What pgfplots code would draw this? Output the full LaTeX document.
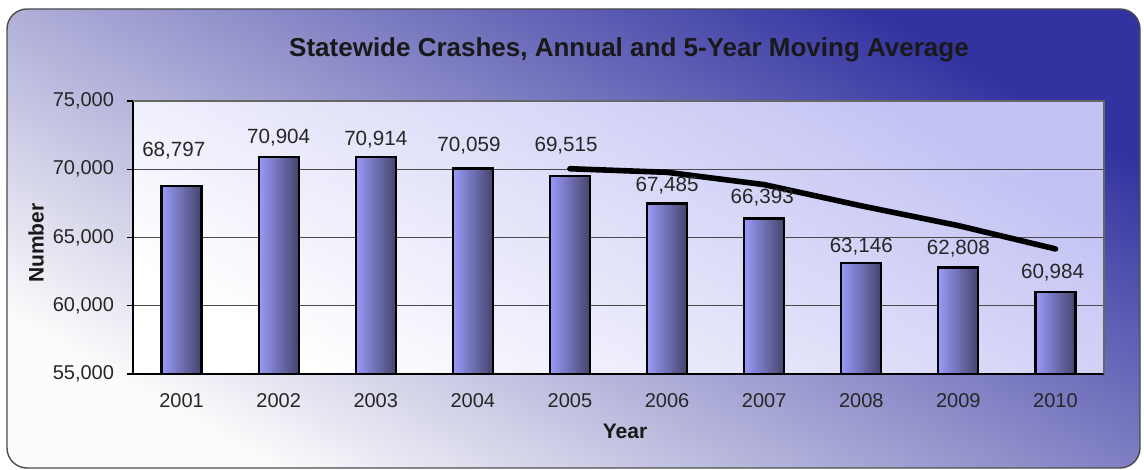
\documentclass[border=0pt]{standalone}
\usepackage{pgfplots}
\pgfplotsset{compat=1.18}
\usepackage{pgfplotstable}
\usepackage{fontspec}
\setmainfont{Liberation Sans}
\definecolor{barL}{HTML}{9A9AFA}
\definecolor{barR}{HTML}{44446C}
\definecolor{bgTop}{HTML}{3232A0}
\definecolor{bgMid}{HTML}{C4C4D6}
\definecolor{bgBot}{HTML}{FCFCFC}
\definecolor{paTop}{HTML}{C2C2F4}
\definecolor{paMid}{HTML}{E2E2F8}
\definecolor{paBot}{HTML}{FFFFFF}
\definecolor{gridc}{HTML}{4A4A4A}

\pgfplotstableread{
x    v      lx       ly
2001 68797  2000.92  71337
2002 70904  2002.00  72289
2003 70914  2003.00  72179
2004 70059  2003.96  71703
2005 69515  2004.96  71703
2006 67485  2006.00  68773
2007 66393  2006.98  67894
2008 63146  2008.00  64304
2009 62808  2009.00  64158
2010 60984  2009.97  62399
}\crashes

\pgfplotstableread{
x    ma
2005 70037.8
2006 69775.4
2007 68873.2
2008 67319.6
2009 65869.4
2010 64163.2
}\movavg

\begin{document}
\begin{tikzpicture}
\useasboundingbox[fill=white] (0pt,0pt) rectangle (572pt,235pt);
\shade[bottom color=bgBot, middle color=bgMid, top color=bgTop, shading angle=-30, rounded corners=10pt]
  (3.5pt,1pt) rectangle (570pt,230.5pt);
\draw[black!70, line width=0.7pt, rounded corners=10pt] (3.5pt,1pt) rectangle (570pt,230.5pt);

\begin{axis}[
  at={(66.5pt,48pt)}, anchor=south west,
  scale only axis, width=485.5pt, height=136.5pt,
  xmin=2000.5, xmax=2010.5,
  ymin=55000, ymax=75000,
  xtick={2001,2002,2003,2004,2005,2006,2007,2008,2009,2010},
  xticklabels={2001,2002,2003,2004,2005,2006,2007,2008,2009,2010},
  minor xtick={2000.5,2001.5,...,2010.5},
  ytick={55000,60000,...,75000},
  scaled y ticks=false,
  axis x line*=bottom, axis y line*=left,
  axis line style={black, line width=0.8pt},
  tick align=outside,
  major tick length=3pt, minor tick length=3pt,
  xtick style={draw=none},
  minor x tick style={black, line width=0.6pt},
  ytick style={black, line width=0.6pt},
  ymajorgrids, grid style={gridc, line width=0.6pt},
  tick label style={font=\fontsize{10}{12}\selectfont, text=black!85, /pgf/number format/assume math mode=true},
  yticklabel style={/pgf/number format/1000 sep={,}, xshift=-3pt},
  xticklabel style={yshift=-3pt},
  axis background/.style={shade, bottom color=paBot, middle color=paMid, top color=paTop, shading angle=-30},
  clip=false,
  barsty/.style={ybar, bar width=20pt, draw=black, line width=1.1pt, left color=barL, right color=barR},
]
\addplot[barsty] coordinates {(2001,68797)};
\addplot[barsty] coordinates {(2002,70904)};
\addplot[barsty] coordinates {(2003,70914)};
\addplot[barsty] coordinates {(2004,70059)};
\addplot[barsty] coordinates {(2005,69515)};
\addplot[barsty] coordinates {(2006,67485)};
\addplot[barsty] coordinates {(2007,66393)};
\addplot[barsty] coordinates {(2008,63146)};
\addplot[barsty] coordinates {(2009,62808)};
\addplot[barsty] coordinates {(2010,60984)};
\addplot[black, line width=2.8pt, line cap=round, line join=round]
  table[x=x, y=ma] {\movavg};
\addplot[draw=none, mark=none, nodes near coords, point meta=explicit,
  every node near coord/.style={anchor=center, font=\fontsize{10.3}{12}\selectfont, text=black!85,
    /pgf/number format/assume math mode=true, /pgf/number format/1000 sep={,}}]
  table[x=lx, y=ly, meta=v] {\crashes};
\draw[gray!80!black, line width=0.7pt] (rel axis cs:0,1) -- (rel axis cs:1,1) -- (rel axis cs:1,0);
\end{axis}

\node[font=\bfseries\fontsize{13}{15}\selectfont, text=black!90] at (314.5pt,210pt) {Statewide Crashes, Annual and 5-Year Moving Average};
\node[font=\bfseries\fontsize{10.5}{12}\selectfont, text=black!90] at (312.5pt,19.5pt) {Year};
\node[font=\bfseries\fontsize{10.5}{12}\selectfont, text=black!90, rotate=90] at (18pt,113.5pt) {Number};
\end{tikzpicture}
\end{document}
